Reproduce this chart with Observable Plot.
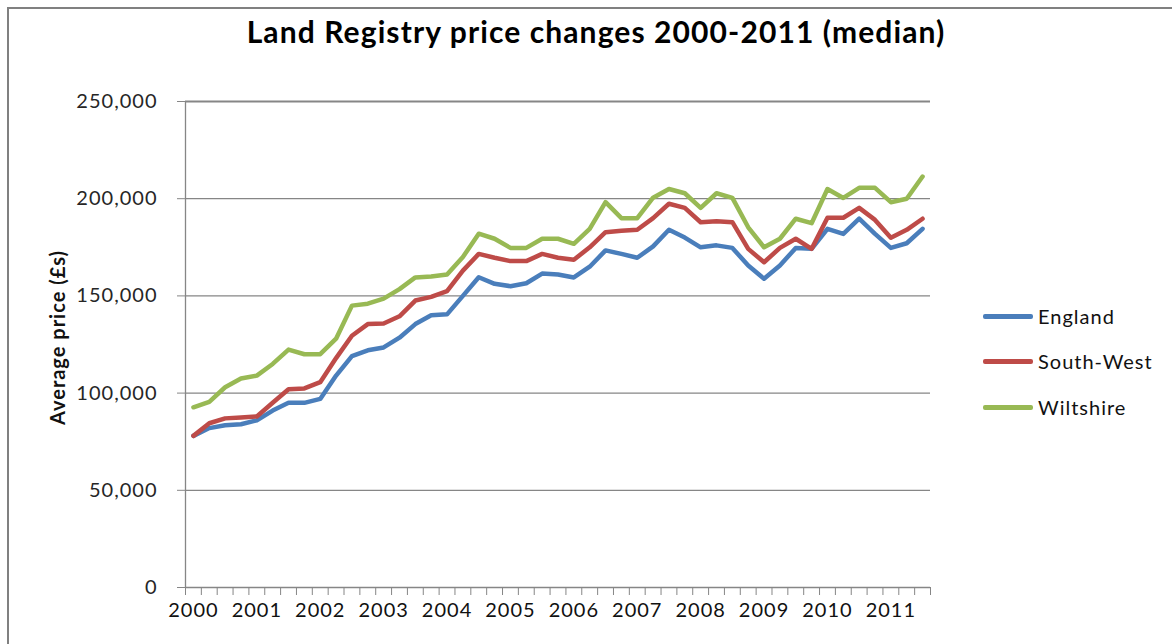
<!DOCTYPE html>
<html>
<head>
<meta charset="utf-8">
<script src="https://cdn.jsdelivr.net/npm/d3@7"></script>
<script src="https://cdn.jsdelivr.net/npm/@observablehq/plot@0.6"></script>
<style>
  html, body { margin: 0; padding: 0; background: #fff; }
  #wrap { position: relative; width: 1172px; height: 644px; overflow: hidden; font-family: Lato, "Noto Sans", sans-serif; }
  #titlebox { position: relative; height: 80px; }
  #title { position: absolute; left: 0; width: 1192px; top: 16px; text-align: center; font-size: 30px; line-height: 30px; letter-spacing: 1.1px; font-weight: bold; color: #000; white-space: nowrap; }
  #border { position: absolute; left: 7px; top: 7px; width: 3000px; height: 3000px; border-left: 2px solid #808080; border-top: 2px solid #808080; pointer-events: none; z-index: 5; }
  #legend { position: absolute; left: 983px; top: 0; }
  .item { position: absolute; left: 0; width: 200px; height: 24px; }
  .sw { position: absolute; left: 0; top: 10px; width: 50px; height: 4.5px; border-radius: 2px; }
  .lb { position: absolute; left: 55px; top: 0; font-size: 20px; line-height: 24px; letter-spacing: 1px; color: #111; white-space: nowrap; }
</style>
</head>
<body>
<div id="wrap">
  <div id="titlebox"><div id="title">Land Registry price changes 2000-2011 (median)</div></div>
  <div id="chart"></div>
  <div id="legend"></div>
  <div id="border"></div>
</div>
<script>
// ---- data (quarterly medians, £) ----
const yearLabels = ["2000","2001","2002","2003","2004","2005","2006","2007","2008","2009","2010","2011"];
const periods = [];
for (const y of yearLabels) for (const q of ["Q1","Q2","Q3","Q4"]) periods.push(y + " " + q);
periods.length = 47; // 2000 Q1 .. 2011 Q3

const england = [78000, 82000, 83500, 84000, 86000, 91000, 95000, 95000, 97000, 109000,
  119000, 122000, 123500, 128500, 135500, 140000, 140500, 150000, 159600, 156200,
  155000, 156500, 161500, 161000, 159500, 165000, 173400, 171600, 169600, 175500,
  184000, 180000, 175000, 176000, 174700, 165600, 158800, 165600, 174700, 174200,
  184500, 181900, 189700, 181900, 174700, 177100, 184500];
const southWest = [78000, 84500, 87000, 87500, 88000, 95000, 102000, 102400, 105600, 118000,
  129500, 135500, 135800, 139500, 147600, 149500, 152400, 163000, 171600, 169600,
  167900, 167900, 171600, 169600, 168600, 175000, 182800, 183500, 184000, 190000,
  197400, 195300, 187900, 188400, 187900, 174200, 167300, 174700, 179400, 174200,
  190200, 190200, 195300, 189100, 179900, 184000, 189700];
const wiltshire = [92700, 95500, 103000, 107500, 109000, 115000, 122400, 120000, 120000, 128000,
  145000, 146000, 148600, 153500, 159500, 160000, 161000, 170000, 182000, 179400,
  174700, 174700, 179400, 179400, 176800, 184500, 198200, 190000, 190000, 200500,
  205000, 202800, 195300, 202800, 200400, 185300, 175000, 179400, 189700, 187400,
  205000, 200400, 205600, 205600, 198200, 200000, 211400];
const seriesNames = ["England", "South-West", "Wiltshire"];
const seriesColors = ["#4A7EBB", "#BE4B48", "#98B954"];
const yTicks = [0, 50000, 100000, 150000, 200000, 250000];

// ---- table built from arrays ----
const seriesValues = [england, southWest, wiltshire];
const rows = [];
seriesValues.forEach((vals, s) => vals.forEach((v, i) => rows.push({series: seriesNames[s], i, period: periods[i], value: v})));
const yearPos = yearLabels.map((y, k) => periods.indexOf(y + " Q1") + 0.5);

const grid = "#868686";
const chart = Plot.plot({
  width: 1172,
  height: 564,
  marginLeft: 185,
  marginRight: 242,
  marginTop: 21,
  marginBottom: 57,
  style: {fontFamily: "Lato, 'Noto Sans', sans-serif", fontSize: "20px", background: "transparent", color: "#222", letterSpacing: "1px"},
  x: {type: "linear", domain: [0, periods.length]},
  y: {domain: [0, 250000]},
  color: {domain: seriesNames, range: seriesColors},
  marks: [
    Plot.ruleY(yTicks.slice(0, -1), {stroke: grid, strokeWidth: 1.3}),
    Plot.ruleY([yTicks[yTicks.length - 1]], {stroke: grid, strokeWidth: 2}),
    Plot.ruleX([0], {stroke: grid, strokeWidth: 1.3}),
    Plot.axisY({ticks: yTicks, tickSize: 8, tickPadding: 20, tickFormat: d3.format(","), stroke: grid, fill: "#262626", fontSize: 20, label: null}),
    Plot.axisX({ticks: d3.range(0, periods.length + 1), tickSize: 8, tickFormat: () => "", stroke: grid, label: null}),
    Plot.axisX({ticks: yearPos, tickSize: 0, tickPadding: 15.5, tickFormat: (d, k) => yearLabels[k], fill: "#111", fontSize: 20, label: null}),
    Plot.lineY(rows, {x: d => d.i + 0.5, y: "value", z: "series", stroke: "series", strokeWidth: 4.5, strokeLinejoin: "round", strokeLinecap: "round"}),
    Plot.text(["Average price (£s)"], {frameAnchor: "left", textAnchor: "middle", dx: -127, dy: -7, rotate: -90, fontSize: 20, fontWeight: "bold", fill: "#111"})
  ]
});
document.getElementById("chart").appendChild(chart);

// ---- legend ----
const legend = document.getElementById("legend");
const legendY = [304, 349, 395];
seriesNames.forEach((name, s) => {
  const it = document.createElement("div");
  it.className = "item";
  it.style.top = legendY[s] + "px";
  it.innerHTML = `<div class="sw" style="background:${seriesColors[s]}"></div><div class="lb">${name}</div>`;
  legend.appendChild(it);
});
</script>
</body>
</html>
